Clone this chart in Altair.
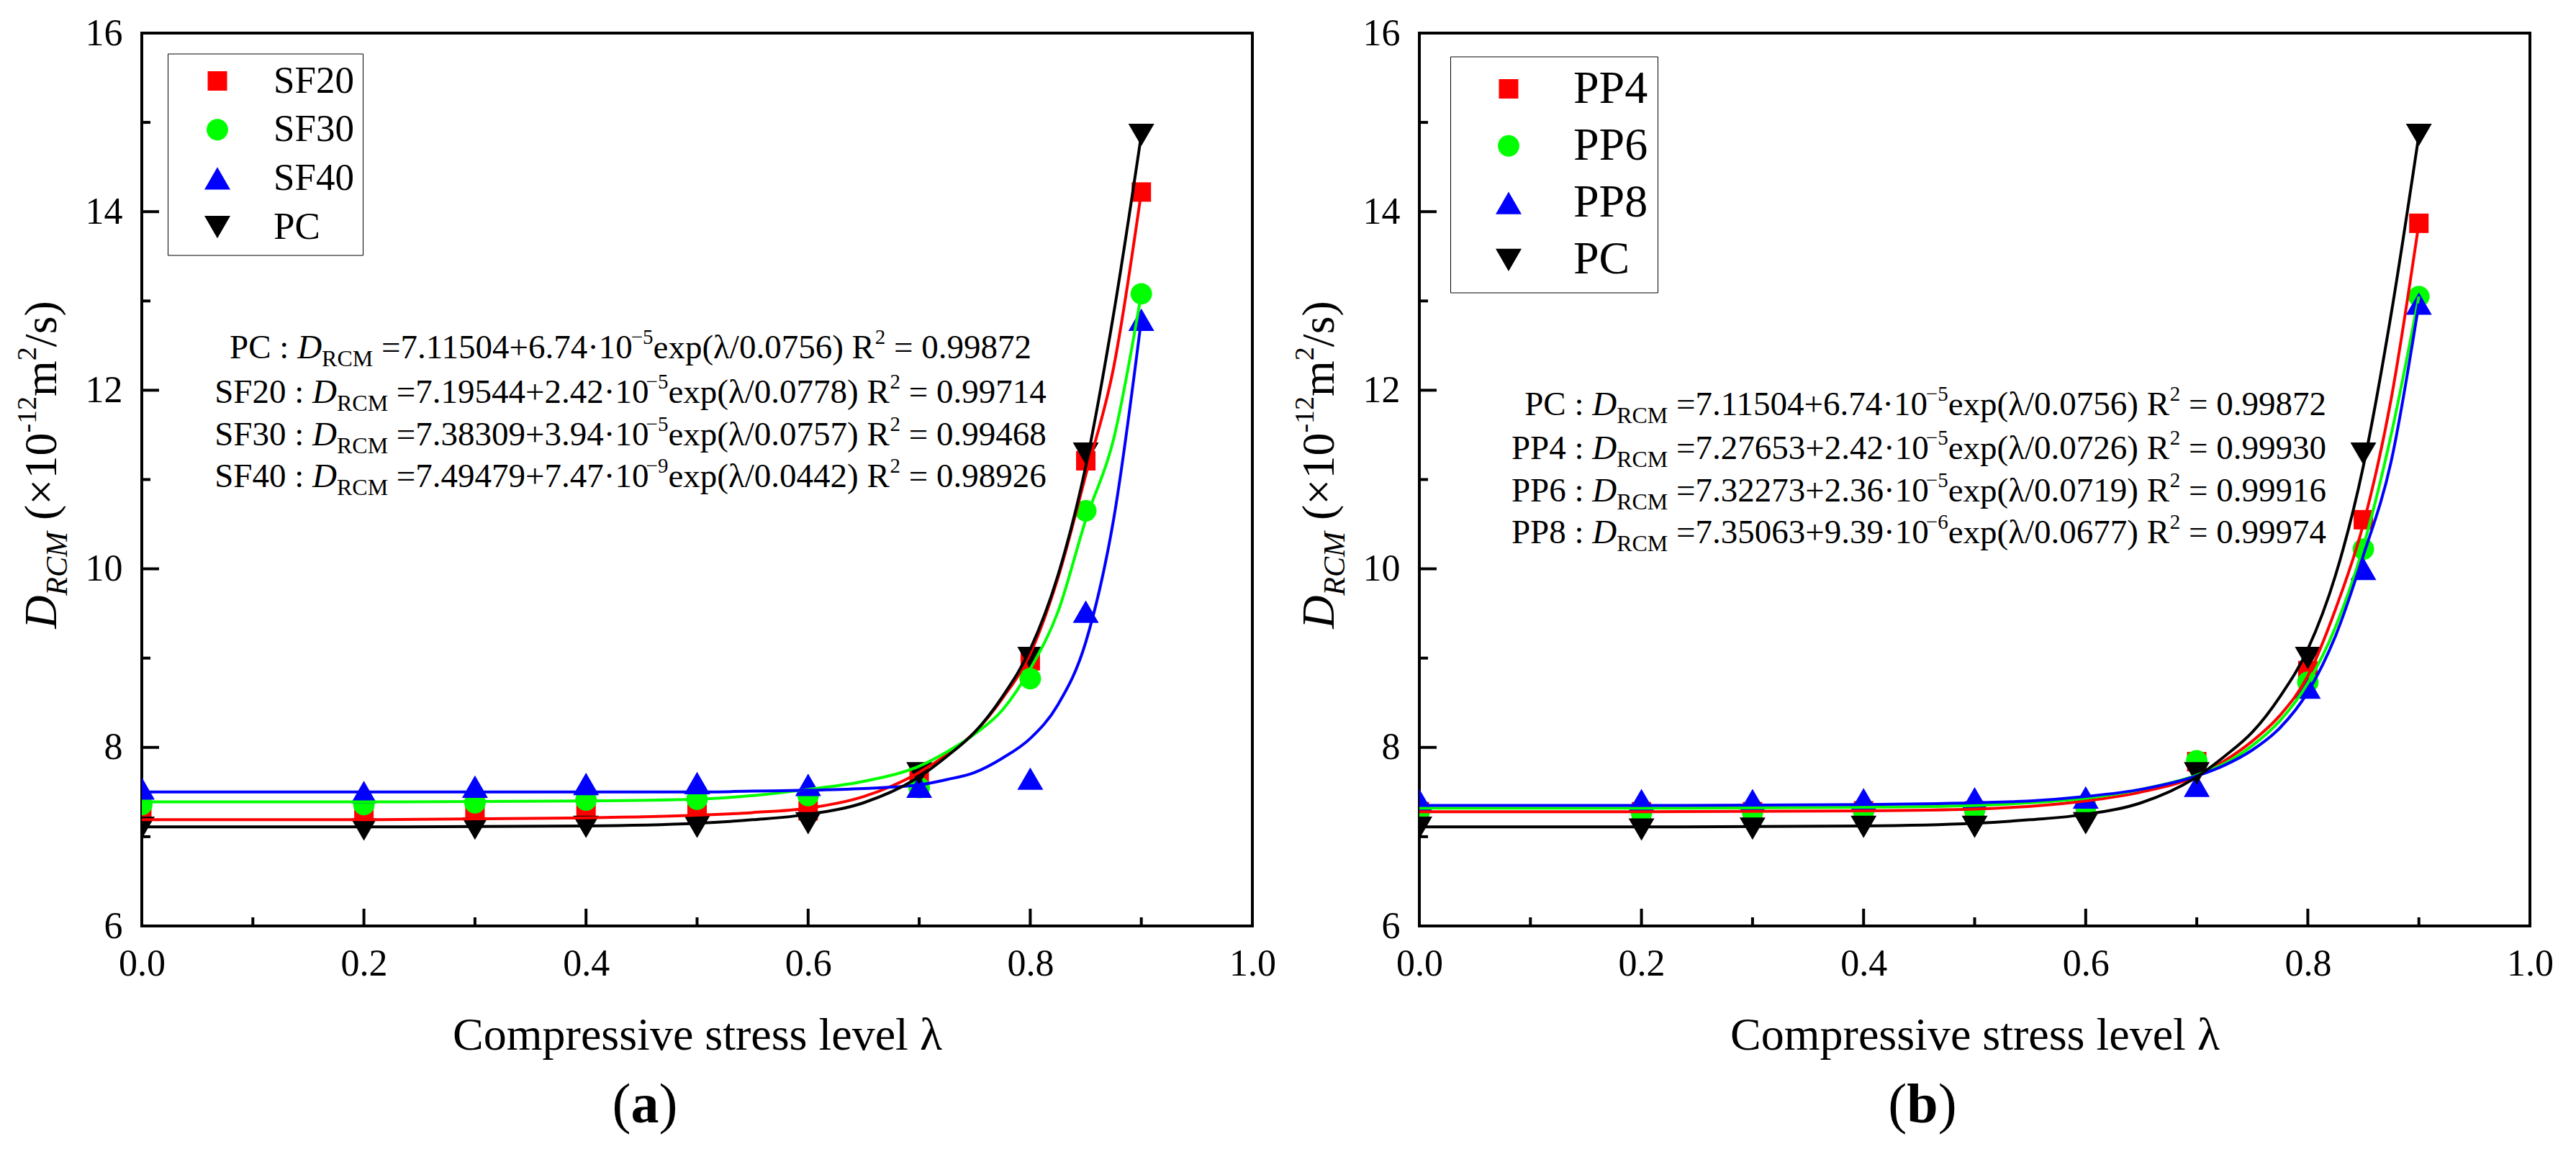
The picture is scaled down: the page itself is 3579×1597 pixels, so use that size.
import altair as alt
import pandas as pd

FONT = "Liberation Serif"
W, H = 1543, 1241
XMIN, XMAX, YMIN, YMAX = 0.0, 1.0, 6.0, 16.0

# ---------------- data ----------------
x_pts = [0.0, 0.2, 0.3, 0.4, 0.5, 0.6, 0.7, 0.8, 0.85, 0.9]
pc_pts = [7.10, 7.08, 7.09, 7.11, 7.11, 7.15, 7.71, 9.00, 11.29, 14.86]
sf20_pts = [7.27, 7.25, 7.27, 7.29, 7.27, 7.29, 7.69, 8.97, 11.21, 14.22]
sf30_pts = [7.36, 7.36, 7.38, 7.41, 7.42, 7.46, 7.55, 8.77, 10.65, 13.08]
sf40_pts = [7.54, 7.50, 7.56, 7.59, 7.60, 7.58, 7.56, 7.65, 9.52, 12.79]
pp4_pts = [7.28, 7.28, 7.28, 7.29, 7.29, 7.33, 7.84, 8.86, 10.55, 13.87]
pp6_pts = [7.29, 7.27, 7.28, 7.29, 7.30, 7.34, 7.85, 8.73, 10.22, 13.05]
pp8_pts = [7.41, 7.41, 7.41, 7.42, 7.43, 7.44, 7.57, 8.67, 10.00, 12.97]

# fitted curves
x_fit = [0.0, 0.2, 0.4, 0.5, 0.55, 0.6, 0.65, 0.7, 0.725, 0.75, 0.775, 0.8, 0.825, 0.85, 0.875, 0.9]
pc_fit = [7.11, 7.11, 7.12, 7.15, 7.19, 7.25, 7.38, 7.67, 7.90, 8.17, 8.57, 9.10, 9.93, 11.15, 12.85, 14.86]
sf20_fit = [7.19, 7.19, 7.21, 7.24, 7.27, 7.32, 7.45, 7.72, 7.92, 8.17, 8.55, 9.05, 9.90, 11.05, 12.25, 14.22]
sf30_fit = [7.39, 7.39, 7.40, 7.42, 7.46, 7.53, 7.62, 7.79, 7.95, 8.15, 8.42, 8.88, 9.52, 10.55, 11.45, 13.08]
sf40_fit = [7.50, 7.50, 7.50, 7.50, 7.51, 7.52, 7.54, 7.58, 7.64, 7.72, 7.88, 8.10, 8.48, 9.18, 10.55, 12.79]
pp4_fit = [7.28, 7.28, 7.29, 7.31, 7.34, 7.40, 7.50, 7.68, 7.85, 8.07, 8.36, 8.80, 9.55, 10.50, 11.90, 13.87]
pp6_fit = [7.32, 7.32, 7.33, 7.35, 7.38, 7.43, 7.53, 7.69, 7.82, 8.02, 8.30, 8.72, 9.35, 10.25, 11.50, 13.05]
pp8_fit = [7.35, 7.35, 7.36, 7.38, 7.40, 7.45, 7.53, 7.68, 7.80, 7.97, 8.22, 8.62, 9.25, 10.15, 11.20, 12.97]

SERIES_A = ["SF20", "SF30", "SF40", "PC"]
SERIES_B = ["PP4", "PP6", "PP8", "PC"]
PTS_A = [sf20_pts, sf30_pts, sf40_pts, pc_pts]
PTS_B = [pp4_pts, pp6_pts, pp8_pts, pc_pts]
FIT_A = [sf20_fit, sf30_fit, sf40_fit, pc_fit]
FIT_B = [pp4_fit, pp6_fit, pp8_fit, pc_fit]

FORM_A = [("PC", "7.11504", "6.74", "−5", "0.0756", "0.99872"),
          ("SF20", "7.19544", "2.42", "−5", "0.0778", "0.99714"),
          ("SF30", "7.38309", "3.94", "−5", "0.0757", "0.99468"),
          ("SF40", "7.49479", "7.47", "−9", "0.0442", "0.98926")]
FORM_B = [("PC", "7.11504", "6.74", "−5", "0.0756", "0.99872"),
          ("PP4", "7.27653", "2.42", "−5", "0.0726", "0.99930"),
          ("PP6", "7.32273", "2.36", "−5", "0.0719", "0.99916"),
          ("PP8", "7.35063", "9.39", "−6", "0.0677", "0.99974")]

X_TICKS = [0.0, 0.2, 0.4, 0.6, 0.8, 1.0]
Y_TICKS = [6, 8, 10, 12, 14, 16]
X_MAJ = [0.2, 0.4, 0.6, 0.8]
X_MIN = [0.1, 0.3, 0.5, 0.7, 0.9]
Y_MAJ = [8, 10, 12, 14]
Y_MIN = [7, 9, 11, 13, 15]

# ---------------- styles ----------------
COLORS = ["#ff0000", "#00ff00", "#0000ff", "#000000"]
SHAPES = ["M-0.75,-0.75H0.75V0.75H-0.75Z",
          "M-0.83,0A0.83,0.83,0,1,0,0.83,0A0.83,0.83,0,1,0,-0.83,0Z",
          "M0,-0.866L1,0.866L-1,0.866Z",
          "M0,0.866L1,-0.866L-1,-0.866Z"]
SYM = 1296

REG = {' ': 250, '(': 333, ')': 333, '+': 564, '·': 250, '-': 333, '−': 564, '.': 250, '/': 278,
       ':': 278, '=': 564, '×': 564, 'C': 667, 'D': 722, 'F': 556, 'M': 889, 'P': 556, 'R': 667,
       'S': 556, 'e': 444, 'm': 778, 'p': 500, 's': 389, 'x': 500, 'λ': 500, 'a': 444, 'b': 500}
for _d in "0123456789":
    REG[_d] = 500
ITAL = dict(REG, D=722, R=611, C=667, M=833)
BOLD = dict(REG, a=500, b=556)

STY = {
    'f_n': dict(fontSize=47), 'f_i': dict(fontSize=47, fontStyle='italic'),
    'f_sub': dict(fontSize=32), 'f_sup': dict(fontSize=29),
    'yt_i': dict(fontSize=64, fontStyle='italic', angle=270),
    'yt_isub': dict(fontSize=42, fontStyle='italic', angle=270),
    'yt_n': dict(fontSize=64, angle=270), 'yt_sup': dict(fontSize=38, angle=270),
    'pl_n': dict(fontSize=78), 'pl_b': dict(fontSize=78, fontWeight='bold'),
}
SUB_DY, SUP_DY = 11, -20
YT_BASE, YT_CENTER, YT_SUB, YT_SUP = -119, 600, 15, -28
PL_CX, PL_BASE = 699, 1513.5


def seg_w(style, txt):
    tab = ITAL if 'i' in style.split('_')[1] else (BOLD if style == 'pl_b' else REG)
    return sum(tab.get(c, 500) for c in txt) * STY[style]['fontSize'] / 1000.0


def strip_lead(style, txt):
    # SVG drops leading blanks, so turn them into an offset instead
    body = txt.lstrip(' ')
    return seg_w(style, txt[:len(txt) - len(body)]), body


def dx(px):
    return XMIN + px / W * (XMAX - XMIN)


def dy(py):
    return YMAX - py / H * (YMAX - YMIN)


def formula_rows(forms, baselines, anchor, align):
    rows = []
    for (name, a, b, e, t, r2), base in zip(forms, baselines):
        parts = [("f_n", name + " : "), ("f_i", "D"), ("f_sub", "RCM"),
                 ("f_n", " =" + a + "+" + b + "·10"), ("f_sup", e),
                 ("f_n", "exp(λ/" + t + ") R"), ("f_sup", "2"), ("f_n", " = " + r2)]
        ws = [seg_w(s, tx) for s, tx in parts]
        tot = sum(ws)
        pos = anchor - tot / 2 if align == 'center' else anchor - tot
        for (s, tx), w in zip(parts, ws):
            off = SUB_DY if s == 'f_sub' else (SUP_DY if s == 'f_sup' else 0)
            lead, body = strip_lead(s, tx)
            rows.append(dict(x=dx(pos + lead), y=dy(base + off), t=body, s=s))
            pos += w
    return rows


def ytitle_rows():
    parts = [("yt_i", "D"), ("yt_isub", "RCM"), ("yt_n", " (×10"), ("yt_sup", "-12"),
             ("yt_n", "m"), ("yt_sup", "2"), ("yt_n", "/s)")]
    ws = [seg_w(s, tx) for s, tx in parts]
    pos = YT_CENTER + sum(ws) / 2
    rows = []
    for (s, tx), w in zip(parts, ws):
        sh = YT_SUB if s == 'yt_isub' else (YT_SUP if s == 'yt_sup' else 0)
        lead, body = strip_lead(s, tx)
        rows.append(dict(x=dx(YT_BASE + sh), y=dy(pos - lead), t=body, s=s))
        pos -= w
    return rows


def plabel_rows(letter):
    parts = [("pl_n", "("), ("pl_b", letter), ("pl_n", ")")]
    ws = [seg_w(s, tx) for s, tx in parts]
    pos = PL_CX - sum(ws) / 2
    rows = []
    for (s, tx), w in zip(parts, ws):
        rows.append(dict(x=dx(pos), y=dy(PL_BASE), t=tx, s=s))
        pos += w
    return rows


XS = alt.Scale(domain=[XMIN, XMAX], nice=False, zero=False)
YS = alt.Scale(domain=[YMIN, YMAX], nice=False, zero=False)
AXX = alt.Axis(values=X_TICKS, format='.1f', title='Compressive stress level λ', domain=False,
               ticks=False, tickSize=0, grid=False, labelFont=FONT, labelFontSize=52,
               labelPadding=27, labelFlush=False, labelColor='black', labelOverlap=False,
               titleFont=FONT, titleFontSize=64, titleFontWeight='normal', titleColor='black',
               titlePadding=42)
AXY = alt.Axis(values=Y_TICKS, format='d', title=None, domain=False, ticks=False, tickSize=0,
               grid=False, labelFont=FONT, labelFontSize=52, labelPadding=27, labelFlush=False,
               labelColor='black', labelOverlap=False)
X = alt.X('x:Q', scale=XS, axis=AXX)
Y = alt.Y('y:Q', scale=YS, axis=AXY)


def panel(series, pts, fits, forms, f_base, f_anchor, f_align, letter, leg):
    df_p = pd.DataFrame([dict(x=xv, y=yv, s=nm) for nm, ys in zip(series, pts)
                         for xv, yv in zip(x_pts, ys)])
    df_f = pd.DataFrame([dict(x=xv, y=yv, s=nm) for nm, ys in zip(series, fits)
                         for xv, yv in zip(x_fit, ys)])
    layers = []
    # inward ticks
    layers.append(alt.Chart(pd.DataFrame({'x': X_MAJ})).mark_rule(color='black', strokeWidth=4)
                  .encode(x=X, y=alt.value(H), y2=alt.value(H - 24)))
    layers.append(alt.Chart(pd.DataFrame({'x': X_MIN})).mark_rule(color='black', strokeWidth=4)
                  .encode(x=X, y=alt.value(H), y2=alt.value(H - 12)))
    layers.append(alt.Chart(pd.DataFrame({'y': Y_MAJ})).mark_rule(color='black', strokeWidth=4)
                  .encode(y=Y, x=alt.value(0), x2=alt.value(24)))
    layers.append(alt.Chart(pd.DataFrame({'y': Y_MIN})).mark_rule(color='black', strokeWidth=4)
                  .encode(y=Y, x=alt.value(0), x2=alt.value(12)))
    # points
    legend = alt.Legend(orient='none', title=None, symbolSize=SYM, symbolStrokeWidth=0,
                        symbolOpacity=1, labelFont=FONT, labelColor='black',
                        strokeColor='black', fillColor='white', **leg)
    layers.append(alt.Chart(df_p).mark_point(filled=True, opacity=1, size=SYM, strokeWidth=0, clip=True)
                  .encode(x=X, y=Y,
                          color=alt.Color('s:N', scale=alt.Scale(domain=series, range=COLORS), legend=legend),
                          shape=alt.Shape('s:N', scale=alt.Scale(domain=series, range=SHAPES), legend=legend)))
    # fitted curves
    for nm, col in zip(series, COLORS):
        layers.append(alt.Chart(df_f).transform_filter(alt.datum.s == nm)
                      .mark_line(color=col, strokeWidth=4, interpolate='monotone', clip=True)
                      .encode(x=X, y=Y))
    # texts
    rows = formula_rows(forms, f_base, f_anchor, f_align) + ytitle_rows() + plabel_rows(letter)
    df_t = pd.DataFrame(rows)
    for st, kw in STY.items():
        layers.append(alt.Chart(df_t).transform_filter(alt.datum.s == st)
                      .mark_text(align='left', baseline='alphabetic', font=FONT, color='black', **kw)
                      .encode(x=X, y=Y, text='t:N'))
    return alt.layer(*layers).properties(width=W, height=H)


left = panel(SERIES_A, PTS_A, FIT_A, FORM_A, [451.5, 513.5, 572.5, 630.5], 679, 'center', 'a',
             dict(legendX=36, legendY=28.5, padding=11.5, rowPadding=13.7, symbolOffset=31,
                  labelOffset=51.5, labelFontSize=53))
right = panel(SERIES_B, PTS_B, FIT_B, FORM_B, [530.5, 591.5, 650.5, 708.5], 1260, 'right', 'b',
              dict(legendX=43, legendY=32.5, padding=13, rowPadding=15.3, symbolOffset=36,
                   labelOffset=58, labelFontSize=64))

chart = (alt.hconcat(left, right, spacing=232, bounds='flush')
         .resolve_scale(color='independent', shape='independent')
         .properties(padding={'left': 10, 'top': 10, 'right': 5, 'bottom': 5})
         .configure(background='white', font=FONT)
         .configure_axis(labelFont=FONT, titleFont=FONT)
         .configure_legend(labelFont=FONT)
         .configure_text(font=FONT)
         .configure_view(stroke='black', strokeWidth=4))

chart.save("out.html", embed_options={"renderer": "svg", "actions": False})
